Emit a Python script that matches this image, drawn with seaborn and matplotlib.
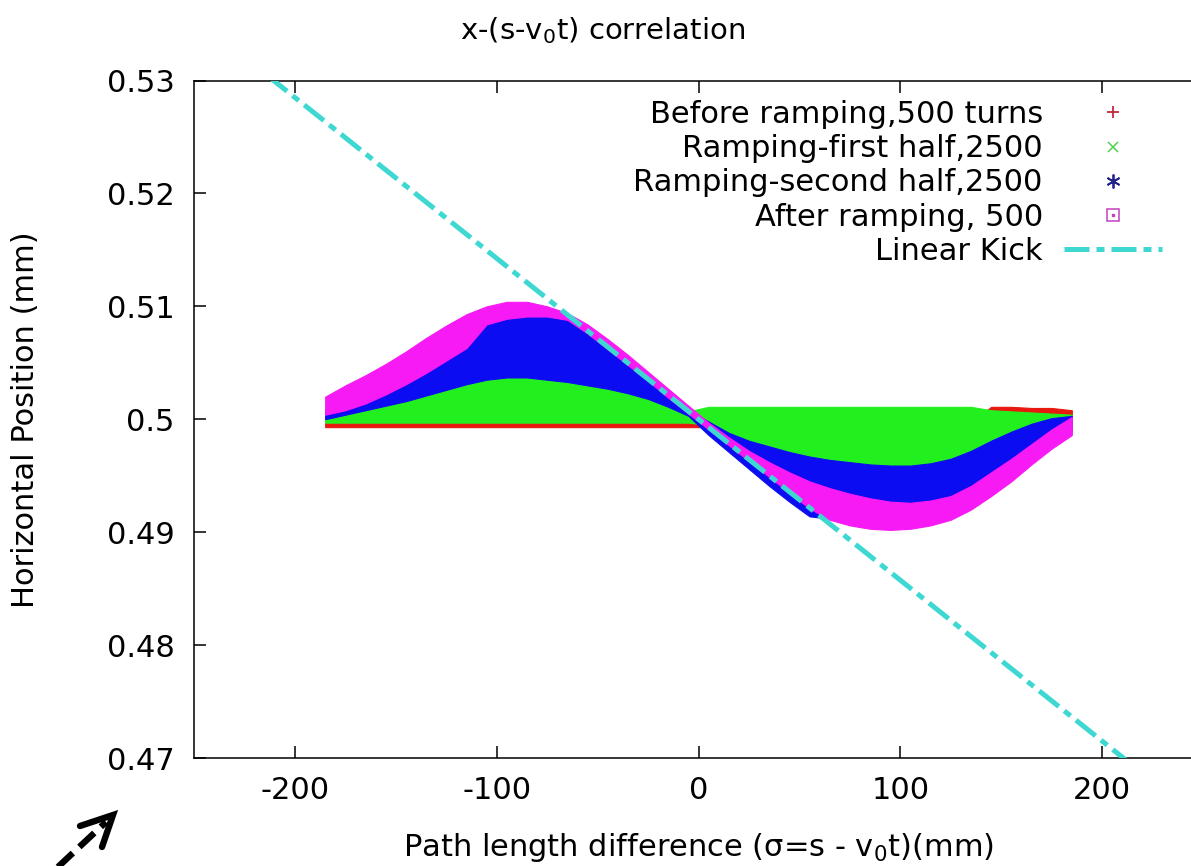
import matplotlib
matplotlib.use("Agg")
import matplotlib.pyplot as plt
import seaborn as sns
from matplotlib.lines import Line2D
from matplotlib.legend_handler import HandlerTuple

# Path-length samples (mm) at which each particle band is outlined
SIGMA = [-185, -175, -165, -155, -145, -135, -125, -115, -105, -95,
         -85, -75, -65, -55, -45, -35, -25, -15, -5, 5,
         15, 25, 35, 45, 55, 65, 75, 85, 95, 105,
         115, 125, 135, 145, 155, 165, 175, 185]

# Before ramping, 500 turns (horizontal position, mm)
BEFORE_LO = [0.4993] * 33 + [0.5004, 0.5004, 0.5004, 0.5004, 0.5003]
BEFORE_HI = [0.4997] * 33 + [0.5011, 0.5011, 0.5010, 0.5010, 0.5008]

# Ramping - first half, 2500 turns
FIRST_LO = [0.4997] * 19 + [0.4995, 0.4985, 0.4978, 0.4973, 0.4968, 0.4964, 0.4961, 0.4959,
                            0.4957, 0.4956, 0.4956, 0.4958, 0.4962, 0.4969, 0.4978, 0.4986,
                            0.4993, 0.4998, 0.5000]
FIRST_HI = [0.5004, 0.5008, 0.5012, 0.5016, 0.5020, 0.5025, 0.5030, 0.5035, 0.5039, 0.5041,
            0.5041, 0.5039, 0.5037, 0.5034, 0.5031, 0.5027, 0.5022, 0.5015, 0.5007, 0.5011,
            0.5011, 0.5011, 0.5011, 0.5011, 0.5011, 0.5011, 0.5011, 0.5011, 0.5011, 0.5011,
            0.5011, 0.5011, 0.5011, 0.5008, 0.5007, 0.5006, 0.5005, 0.5004]

# Ramping - second half, 2500 turns
SECOND_LO = [0.5000, 0.5004, 0.5008, 0.5012, 0.5016, 0.5021, 0.5026, 0.5031, 0.5035, 0.5037,
             0.5037, 0.5035, 0.5033, 0.5030, 0.5027, 0.5023, 0.5018, 0.5011, 0.5003, 0.4986,
             0.4971, 0.4956, 0.4941, 0.4927, 0.4914, 0.4912, 0.4909, 0.4906, 0.4905, 0.4906,
             0.4909, 0.4914, 0.4923, 0.4935, 0.4948, 0.4963, 0.4977, 0.4990]
SECOND_HI = [0.5008, 0.5012, 0.5018, 0.5026, 0.5035, 0.5045, 0.5056, 0.5067, 0.5088, 0.5092,
             0.5093, 0.5093, 0.5091, 0.5079, 0.5065, 0.5051, 0.5037, 0.5023, 0.5008, 0.4998,
             0.4988, 0.4981, 0.4976, 0.4971, 0.4967, 0.4964, 0.4962, 0.4960, 0.4959, 0.4959,
             0.4961, 0.4965, 0.4972, 0.4981, 0.4989, 0.4996, 0.5001, 0.5003]

# After ramping, 500 turns
AFTER_LO = [0.5004, 0.5008, 0.5014, 0.5022, 0.5031, 0.5041, 0.5052, 0.5063, 0.5084, 0.5089,
            0.5091, 0.5091, 0.5088, 0.5076, 0.5062, 0.5048, 0.5034, 0.5019, 0.5005, 0.4991,
            0.4977, 0.4963, 0.4949, 0.4935, 0.4921, 0.4911, 0.4906, 0.4903, 0.4902, 0.4903,
            0.4906, 0.4911, 0.4920, 0.4932, 0.4945, 0.4960, 0.4974, 0.4986]
AFTER_HI = [0.5020, 0.5030, 0.5039, 0.5049, 0.5060, 0.5072, 0.5083, 0.5093, 0.5100, 0.5104,
            0.5104, 0.5100, 0.5094, 0.5084, 0.5071, 0.5057, 0.5042, 0.5027, 0.5012, 0.4997,
            0.4984, 0.4972, 0.4962, 0.4953, 0.4945, 0.4939, 0.4934, 0.4930, 0.4927, 0.4926,
            0.4928, 0.4932, 0.4941, 0.4953, 0.4965, 0.4978, 0.4991, 0.5002]

# Linear kick reference line
KICK_SIGMA = [-250, 250]
KICK_X = [0.53562, 0.46438]

X_TICKS = [-200, -100, 0, 100, 200]
Y_TICKS = [0.47, 0.48, 0.49, 0.50, 0.51, 0.52, 0.53]
Y_TICK_LABELS = ["0.47", "0.48", "0.49", "0.5", "0.51", "0.52", "0.53"]

LABELS = ["Before ramping,500 turns", "Ramping-first half,2500",
          "Ramping-second half,2500", "After ramping, 500", "Linear Kick"]

RED, GREEN, BLUE, MAGENTA, CYAN = "#e8190f", "#22f01e", "#0c0cf2", "#f81af4", "#3ed8d2"

sns.set_style("ticks")
plt.rcParams["font.family"] = ["DejaVu Sans"]
plt.rcParams["axes.linewidth"] = 1.1
plt.rcParams["axes.unicode_minus"] = False
for key in ("text.color", "axes.labelcolor", "xtick.color", "ytick.color", "axes.edgecolor"):
    plt.rcParams[key] = "black"

W, H = 1191, 866
FS = 22
fig = plt.figure(figsize=(W / 100, H / 100), dpi=100)
fig.patch.set_facecolor("white")
ax = fig.add_axes([194 / W, 1 - 758 / H, (1203 - 194) / W, (758 - 80.5) / H])

bands = [(BEFORE_LO, BEFORE_HI, RED), (FIRST_LO, FIRST_HI, GREEN),
         (SECOND_LO, SECOND_HI, BLUE), (AFTER_LO, AFTER_HI, MAGENTA)]
for z, (lo, hi, col) in enumerate(bands):
    ax.fill_between(SIGMA, lo, hi, color=col, lw=0.8, edgecolor=col, zorder=2 + z)

sns.lineplot(x=KICK_SIGMA, y=KICK_X, ax=ax, color=CYAN, lw=3.6, legend=False, zorder=8)
kick_line = ax.lines[-1]
kick_line.set_dashes((5, 1.4, 1.6, 1.4))

ax.set_xlim(-250, 250)
ax.set_ylim(0.47, 0.53)
ax.set_xticks(X_TICKS)
ax.set_yticks(Y_TICKS)
ax.set_yticklabels(Y_TICK_LABELS)
ax.tick_params(direction="in", top=True, right=True, length=8.5, width=1.1,
               labelsize=FS, colors="black")
ax.tick_params(axis="y", pad=14)
ax.tick_params(axis="x", pad=13)

ax.set_xlabel("Path length difference (σ=s - v$_0$t)(mm)", fontsize=FS, labelpad=19)
ax.set_ylabel("Horizontal Position (mm)", fontsize=FS, labelpad=48)
fig.text(603 / W, 1 - 31 / H, "x-(s-v$_0$t) correlation", ha="center", va="center",
         fontsize=21)

handles = [
    Line2D([], [], ls="none", marker="+", ms=9, mew=1.3, color="#c42a3c"),
    Line2D([], [], ls="none", marker="x", ms=6.5, mew=1.1, color="#4ed24e"),
    Line2D([], [], ls="none", marker=(6, 2, 0), ms=10, mew=1.3, color="#23238c"),
    (Line2D([], [], ls="none", marker="s", ms=8, mfc="none", mec="#c23fc2", mew=1.1),
     Line2D([], [], ls="none", marker="s", ms=2, color="#c23fc2")),
    Line2D([], [], color=CYAN, lw=3.6, dashes=(5, 1.4, 1.6, 1.4)),
]
leg = ax.legend(handles, LABELS, loc="upper right",
                bbox_to_anchor=((1162 - 194) / (1203 - 194), 1 - (100 - 80.5) / 677.5),
                markerfirst=False, frameon=False, fontsize=FS, handlelength=3.2,
                handletextpad=0.7, labelspacing=0.17, borderpad=0, borderaxespad=0,
                handler_map={tuple: HandlerTuple(ndivide=1)})
leg.set_zorder(10)

# dashed pointer in the lower-left corner
def fpt(x, y):
    return x / W, 1 - y / H

shaft = list(zip(fpt(28, 895), fpt(106, 822)))
fig.add_artist(Line2D(shaft[0], shaft[1], transform=fig.transFigure, color="black",
                      lw=4.6, dashes=(3.2, 1.4), solid_capstyle="butt"))
head = [fpt(80, 826), fpt(113, 815), fpt(102, 847)]
fig.add_artist(Line2D([p[0] for p in head], [p[1] for p in head], transform=fig.transFigure,
                      color="black", lw=4.6, solid_capstyle="round", solid_joinstyle="miter"))

fig.savefig("out.png", dpi=100, facecolor="white")
